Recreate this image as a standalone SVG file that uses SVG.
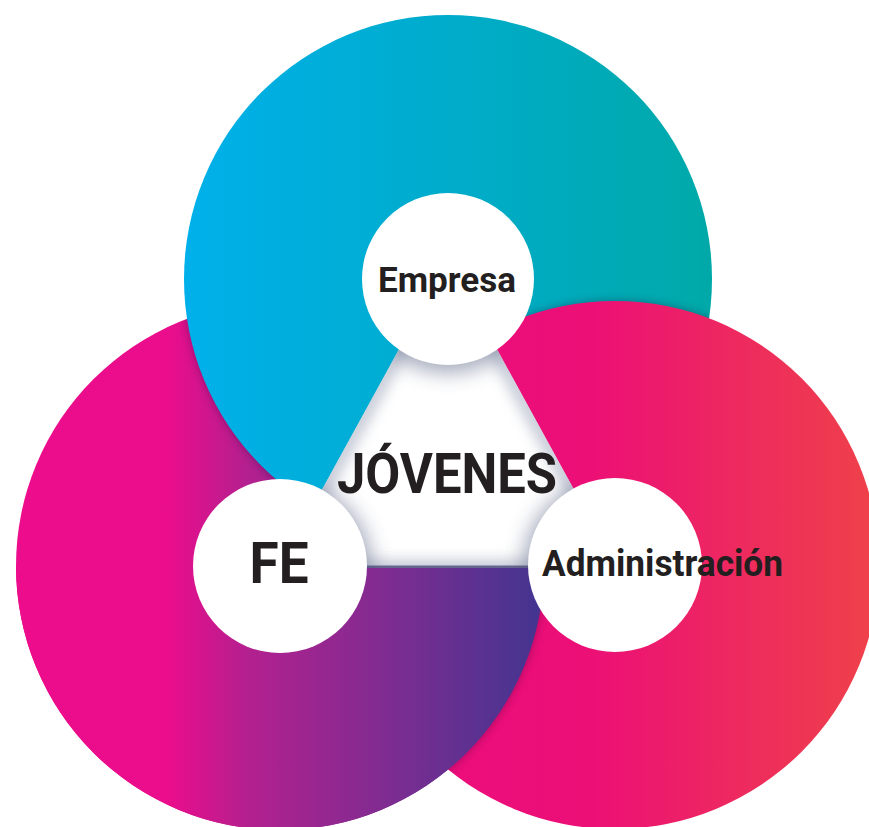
<svg xmlns="http://www.w3.org/2000/svg" width="869" height="827" viewBox="0 0 869 827">
  <defs>
    <linearGradient id="gT" gradientUnits="userSpaceOnUse" x1="185" y1="0" x2="712" y2="0">
      <stop offset="0" stop-color="#00B0EA"/>
      <stop offset="0.5" stop-color="#00ACCB"/>
      <stop offset="1" stop-color="#00A9A8"/>
    </linearGradient>
    <linearGradient id="gL" gradientUnits="userSpaceOnUse" x1="16" y1="0" x2="544" y2="0">
      <stop offset="0" stop-color="#EC0C8C"/>
      <stop offset="0.29" stop-color="#EA0D8C"/>
      <stop offset="0.44" stop-color="#B3208F"/>
      <stop offset="0.73" stop-color="#792D91"/>
      <stop offset="1" stop-color="#423590"/>
    </linearGradient>
    <linearGradient id="gR" gradientUnits="userSpaceOnUse" x1="351" y1="0" x2="879" y2="0">
      <stop offset="0" stop-color="#EC0C80"/>
      <stop offset="0.45" stop-color="#EC0F76"/>
      <stop offset="1" stop-color="#EF4249"/>
    </linearGradient>
    <clipPath id="cL"><circle cx="280" cy="566" r="264"/></clipPath>
    <clipPath id="cT"><circle cx="448" cy="279" r="264"/></clipPath>
    <clipPath id="cR"><circle cx="615" cy="565" r="264"/></clipPath>
    <clipPath id="cBottom"><rect x="0" y="568" width="869" height="300"/></clipPath>
    <clipPath id="cTri"><polygon points="448,260 279,568 617,568"/></clipPath>
    <filter id="blur" x="-20%" y="-20%" width="140%" height="140%"><feGaussianBlur stdDeviation="5"/></filter>
    <filter id="blurS" x="-20%" y="-20%" width="140%" height="140%"><feGaussianBlur stdDeviation="7"/></filter>
    <filter id="blurC" x="-30%" y="-30%" width="160%" height="160%"><feGaussianBlur stdDeviation="10"/></filter>
  </defs>
  <style>
    .lbl { font-family: Roboto, "Liberation Sans", Arial, sans-serif; font-weight: 700; fill: #231F20; }
    .hole { fill: #ffffff; }
    .sh { fill: #1a1030; opacity: 0.35; filter: url(#blur); }
    .csh { fill: #6a7592; opacity: 0.6; filter: url(#blurC); }
  </style>
  <rect width="869" height="827" fill="#ffffff"/>

  <g id="ring-fe">
    <circle cx="280" cy="566" r="264" fill="url(#gL)"/>
  </g>
  <g clip-path="url(#cL)"><circle class="sh" cx="448" cy="279" r="264"/></g>
  <g id="ring-empresa">
    <circle cx="448" cy="279" r="264" fill="url(#gT)"/>
  </g>
  <g clip-path="url(#cT)"><circle class="sh" cx="615" cy="565" r="264"/></g>
  <g id="ring-administracion">
    <circle cx="615" cy="565" r="264" fill="url(#gR)"/>
  </g>
  <g clip-path="url(#cR)"><g clip-path="url(#cBottom)"><circle class="sh" cx="280" cy="566" r="264"/></g></g>
  <g id="ring-fe-front" clip-path="url(#cBottom)">
    <circle cx="280" cy="566" r="264" fill="url(#gL)"/>
  </g>

  <g id="center">
    <polygon points="448,260 279,568 617,568" fill="#ffffff"/>
    <g clip-path="url(#cTri)">
      <polygon points="448,260 279,568 617,568" fill="none" stroke="#aab1c3" stroke-width="16" opacity="0.7" filter="url(#blurS)"/>
      <circle class="csh" cx="448" cy="285" r="88"/>
      <circle class="csh" cx="284" cy="568" r="88"/>
      <circle class="csh" cx="611" cy="567" r="88"/>
      <line x1="279" y1="567" x2="617" y2="567" stroke="#4a4a78" stroke-width="3" opacity="0.8"/>
    </g>
    <text class="lbl" x="447" y="493" font-size="56" text-anchor="middle" textLength="220" lengthAdjust="spacingAndGlyphs">JÓVENES</text>
  </g>

  <g id="node-empresa">
    <circle class="hole" cx="448" cy="279" r="86"/>
    <text class="lbl" x="447" y="292" font-size="35" text-anchor="middle" textLength="138" lengthAdjust="spacingAndGlyphs">Empresa</text>
  </g>
  <g id="node-fe">
    <circle class="hole" cx="280" cy="566" r="87"/>
    <text class="lbl" x="279" y="583" font-size="58" text-anchor="middle" textLength="59" lengthAdjust="spacingAndGlyphs">FE</text>
  </g>
  <g id="node-administracion">
    <circle class="hole" cx="615" cy="565" r="87"/>
    <text class="lbl" x="542" y="576" font-size="36" textLength="241" lengthAdjust="spacingAndGlyphs">Administración</text>
  </g>
</svg>
